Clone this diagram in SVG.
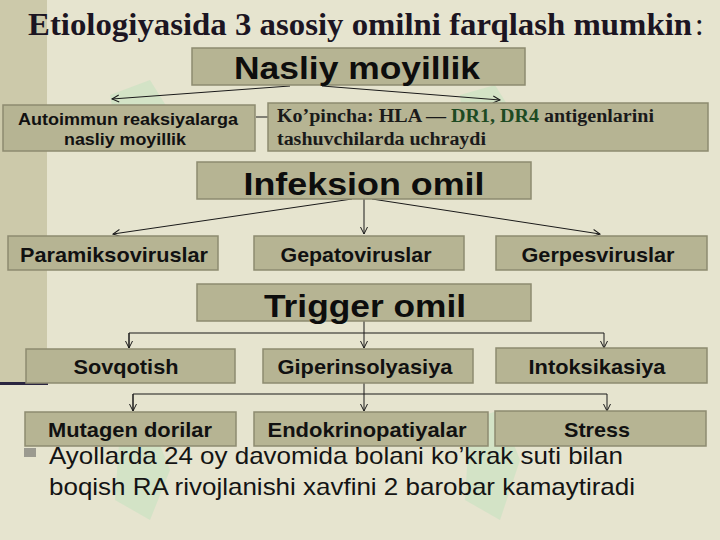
<svg xmlns="http://www.w3.org/2000/svg" width="720" height="540" viewBox="0 0 720 540">
<defs>
<marker id="arr" markerUnits="userSpaceOnUse" markerWidth="10" markerHeight="10" refX="7" refY="4" orient="auto" overflow="visible">
<path d="M0,0.5 L7,4 L0,7.5" fill="none" stroke="#1a1a1a" stroke-width="1"/>
</marker>
</defs>
<style>
.box{fill:#b6b493;stroke:#8d8b70;stroke-width:1.5}
.big{font-family:"Liberation Sans",Arial,sans-serif;font-weight:bold;font-size:32px;fill:#0d0d0d;text-anchor:middle}
.mid{font-family:"Liberation Sans",Arial,sans-serif;font-weight:bold;font-size:21px;fill:#111;text-anchor:middle}
.sm{font-family:"Liberation Sans",Arial,sans-serif;font-weight:bold;font-size:16px;fill:#111;text-anchor:middle}
.ser{font-family:"Liberation Serif","Times New Roman",serif;font-weight:bold;font-size:18px;fill:#1a1a1a}
.body{font-family:"Liberation Sans",Arial,sans-serif;font-size:24px;fill:#141414}
.ttl{font-family:"Liberation Serif","Times New Roman",serif;font-size:31px;fill:#1c1522}
.ln{fill:none;stroke:#1a1a1a;stroke-width:1}
.wm{fill:#7fe0a0;opacity:0.18}
</style>
<rect x="0" y="0" width="720" height="540" fill="#e6e4cf"/>
<rect x="0" y="0" width="47" height="383" fill="#ccc9aa"/>
<rect x="0" y="382" width="48" height="3" fill="#2a2540"/>
<g id="watermark">
<path class="wm" d="M110,95 L150,80 L175,120 L150,150 L120,150 Z"/>
<path class="wm" d="M460,95 L495,85 L520,125 L495,150 L465,148 Z"/>
<path class="wm" d="M120,430 L150,420 L170,470 L150,520 L115,500 Z"/>
<path class="wm" d="M470,420 L500,410 L520,460 L500,520 L465,500 Z"/>
</g>
<g id="title">
<text class="ttl" x="28" y="35" font-weight="bold" textLength="664" lengthAdjust="spacingAndGlyphs">Etiologiyasida 3 asosiy omilni farqlash mumkin</text>
<text class="ttl" x="695" y="35">:</text>
</g>
<g id="connectors">
<line class="ln" x1="290" y1="86" x2="112" y2="99" marker-end="url(#arr)"/>
<line class="ln" x1="322" y1="86" x2="500" y2="100" marker-end="url(#arr)"/>
<line class="ln" x1="256" y1="117" x2="268" y2="117"/>
<line class="ln" x1="352" y1="199" x2="113" y2="234" marker-end="url(#arr)"/>
<line class="ln" x1="364" y1="199" x2="364" y2="234" marker-end="url(#arr)"/>
<line class="ln" x1="372" y1="199" x2="600" y2="234" marker-end="url(#arr)"/>
<polyline class="ln" points="364,321 364,333"/>
<polyline class="ln" points="129,348 129,333 604,333 604,348" marker-end="url(#arr)"/>
<line class="ln" x1="129" y1="333" x2="129" y2="348" marker-end="url(#arr)"/>
<line class="ln" x1="364" y1="333" x2="364" y2="348" marker-end="url(#arr)"/>
<polyline class="ln" points="364,383 364,394"/>
<polyline class="ln" points="133,411 133,394 607,394 607,411" marker-end="url(#arr)"/>
<line class="ln" x1="133" y1="394" x2="133" y2="411" marker-end="url(#arr)"/>
<line class="ln" x1="364" y1="394" x2="364" y2="411" marker-end="url(#arr)"/>
</g>
<g id="nasliy"><rect class="box" x="192" y="48" width="333" height="37"/><text class="big" x="357" y="79" textLength="246" lengthAdjust="spacingAndGlyphs">Nasliy moyillik</text></g>
<g id="autoimmun"><rect class="box" x="3" y="105" width="252" height="46"/><text class="sm" x="128" y="125" textLength="220" lengthAdjust="spacingAndGlyphs">Autoimmun reaksiyalarga</text><text class="sm" x="125" y="145" textLength="122" lengthAdjust="spacingAndGlyphs">nasliy moyillik</text></g>
<g id="kopincha"><rect class="box" x="268" y="103" width="440" height="48"/><text class="ser" x="277" y="122" textLength="377" lengthAdjust="spacingAndGlyphs">Ko’pincha: HLA — <tspan fill="#1d4a22">DR1, DR4</tspan> antigenlarini</text><text class="ser" x="277" y="145" textLength="209" lengthAdjust="spacingAndGlyphs">tashuvchilarda uchraydi</text></g>
<g id="infeksion"><rect class="box" x="197" y="162" width="334" height="37"/><text class="big" x="364" y="195" textLength="241" lengthAdjust="spacingAndGlyphs">Infeksion omil</text></g>
<g id="paramikso"><rect class="box" x="8" y="236" width="210" height="34"/><text class="mid" x="114" y="262" textLength="188" lengthAdjust="spacingAndGlyphs">Paramiksoviruslar</text></g>
<g id="gepato"><rect class="box" x="254" y="236" width="210" height="34"/><text class="mid" x="356" y="262" textLength="151" lengthAdjust="spacingAndGlyphs">Gepatoviruslar</text></g>
<g id="gerpes"><rect class="box" x="496" y="236" width="211" height="34"/><text class="mid" x="598" y="262" textLength="153" lengthAdjust="spacingAndGlyphs">Gerpesviruslar</text></g>
<g id="trigger"><rect class="box" x="197" y="284" width="334" height="37"/><text class="big" x="365" y="317" textLength="202" lengthAdjust="spacingAndGlyphs">Trigger omil</text></g>
<g id="sovqotish"><rect class="box" x="26" y="349" width="209" height="34"/><text class="mid" x="126" y="374" textLength="105" lengthAdjust="spacingAndGlyphs">Sovqotish</text></g>
<g id="giper"><rect class="box" x="263" y="349" width="210" height="34"/><text class="mid" x="365" y="374" textLength="175" lengthAdjust="spacingAndGlyphs">Giperinsolyasiya</text></g>
<g id="intoks"><rect class="box" x="496" y="348" width="211" height="35"/><text class="mid" x="597" y="374" textLength="137" lengthAdjust="spacingAndGlyphs">Intoksikasiya</text></g>
<g id="mutagen"><rect class="box" x="25" y="412" width="211" height="34"/><text class="mid" x="130" y="437" textLength="164" lengthAdjust="spacingAndGlyphs">Mutagen dorilar</text></g>
<g id="endokrino"><rect class="box" x="254" y="412" width="234" height="34"/><text class="mid" x="367" y="437" textLength="199" lengthAdjust="spacingAndGlyphs">Endokrinopatiyalar</text></g>
<g id="stress"><rect class="box" x="495" y="411" width="211" height="35"/><text class="mid" x="597" y="437" textLength="66" lengthAdjust="spacingAndGlyphs">Stress</text></g>
<g id="bullet">
<rect x="24" y="448" width="12" height="9" fill="#9b9a90"/>
<text class="body" x="49" y="464" textLength="574" lengthAdjust="spacingAndGlyphs">Ayollarda 24 oy davomida bolani ko’krak suti bilan</text>
<text class="body" x="49" y="495" textLength="586" lengthAdjust="spacingAndGlyphs">boqish RA rivojlanishi xavfini 2 barobar kamaytiradi</text>
</g>
</svg>
